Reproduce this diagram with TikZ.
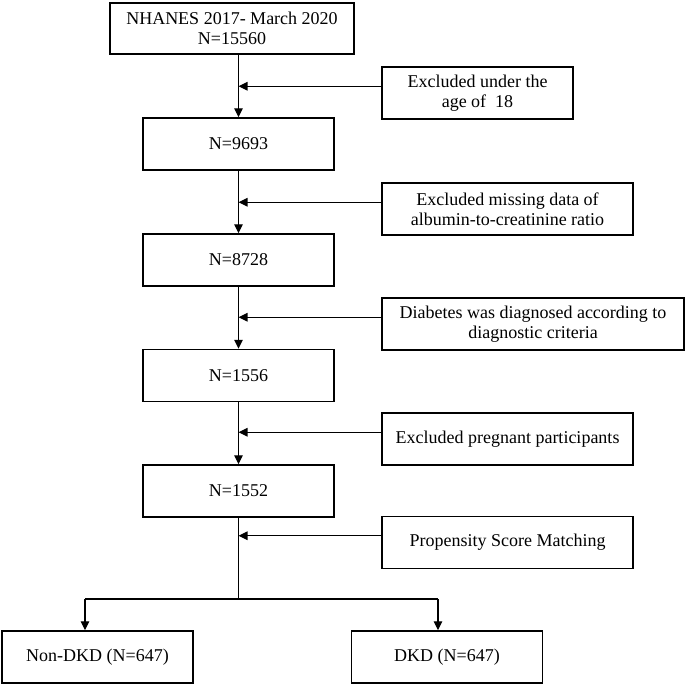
\documentclass[tikz,border=0pt]{standalone}
\usepackage{fontspec}
\setmainfont{Liberation Serif}
\usetikzlibrary{arrows.meta}
\begin{document}
\begin{tikzpicture}[x=1pt,y=-1pt,
  box/.style={draw, line width=1.5pt, align=center, inner sep=0pt,
    minimum height=52pt, font=\fontsize{18}{20.5}\selectfont},
  conn/.style={line width=1.1pt},
  arr/.style={conn, -{Triangle[length=9pt,width=8.5pt]}}]
\useasboundingbox (0,0) rectangle (687,688);
% main column
\node[box, minimum width=244pt, minimum height=51pt] (n1) at (232,28.5) {NHANES 2017- March 2020\\N=15560};
\node[box, minimum width=191pt] (n2) at (238.5,144) {N=9693};
\node[box, minimum width=191pt] (n3) at (238.5,260) {N=8728};
\node[box, minimum width=191pt] (n4) at (238.5,375.5) {N=1556};
\node[box, minimum width=191pt] (n5) at (238.5,491) {N=1552};
% exclusion boxes
\node[box, minimum width=191pt] (e1) at (477.5,93) {Excluded under the\\age of\ \ 18};
\node[box, minimum width=251pt] (e2) at (507.5,209) {Excluded missing data of\\albumin-to-creatinine ratio};
\node[box, minimum width=302pt] (e3) at (533,324) {Diabetes was diagnosed according to\\diagnostic criteria};
\node[box, minimum width=251pt] (e4) at (507.5,439) {Excluded pregnant participants};
\node[box, minimum width=251pt] (e5) at (507.5,542.5) {Propensity Score Matching};
% outcome boxes
\node[box, minimum width=191pt] (o1) at (97.5,657) {Non-DKD (N=647)};
\node[box, minimum width=191pt] (o2) at (447,657) {DKD (N=647)};
% vertical arrows
\draw[arr] (n1.south -| n2.north) -- (n2.north);
\draw[arr] (n2.south) -- (n3.north);
\draw[arr] (n3.south) -- (n4.north);
\draw[arr] (n4.south) -- (n5.north);
% exclusion arrows
\foreach \e in {e1,e2,e3,e4,e5}{
  \draw[arr] ([yshift=-20pt]\e.north west) coordinate (t\e) -- (t\e -| n2.center);
}
% branch
\coordinate (b) at (238.5,599);
\coordinate (bl) at (85,599);
\coordinate (br) at (438,599);
\draw[conn] (n5.south) -- (b);
\draw[conn] (bl) -- (br);
\draw[arr] (bl) -- (bl |- o1.north);
\draw[arr] (br) -- (br |- o2.north);
\end{tikzpicture}
\end{document}
